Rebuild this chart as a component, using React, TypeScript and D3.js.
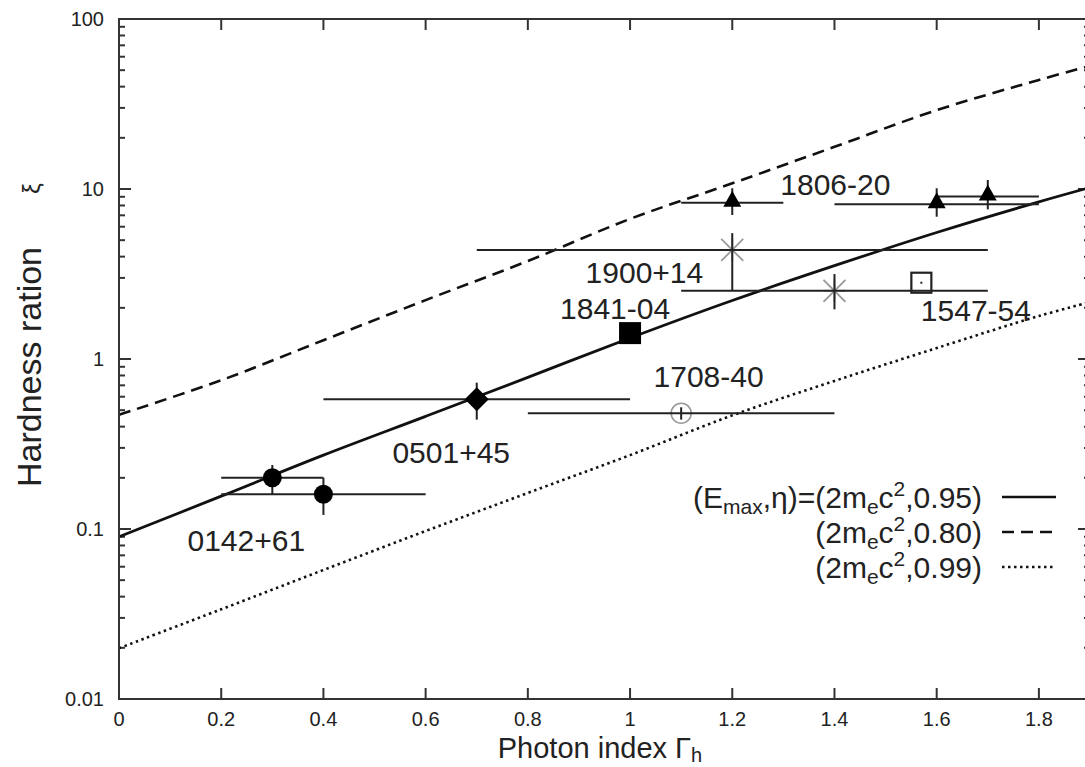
import React from 'react';
import * as d3 from 'd3';

// Model curves
const curveX = [0, 0.2, 0.4, 0.6, 0.8, 1.0, 1.2, 1.4, 1.6, 1.8, 1.9];
const eta095 = [0.09, 0.156, 0.272, 0.46, 0.78, 1.33, 2.21, 3.54, 5.55, 8.4, 10.2];
const eta080 = [0.47, 0.75, 1.29, 2.22, 3.77, 6.67, 10.8, 17.7, 29.1, 43.8, 53];
const eta099 = [0.0199, 0.0337, 0.0574, 0.0973, 0.163, 0.272, 0.466, 0.743, 1.16, 1.79, 2.16];

// Sources
const srcName = ['0142+61', '0142+61', '0501+45', '1841-04', '1708-40', '1900+14', '1900+14', '1547-54', '1806-20', '1806-20', '1806-20'];
const srcX = [0.3, 0.4, 0.7, 1.0, 1.1, 1.2, 1.4, 1.57, 1.2, 1.6, 1.7];
const srcY = [0.2, 0.16, 0.58, 1.42, 0.48, 4.38, 2.52, 2.81, 8.3, 8.13, 9.02];
const srcXlo = [0.2, 0.2, 0.4, null, 0.8, 0.7, 1.1, null, 1.1, 1.4, 1.6];
const srcXhi = [0.4, 0.6, 1.0, null, 1.4, 1.7, 1.7, null, 1.3, 1.8, 1.8];
const srcYlo = [0.16, 0.121, 0.44, null, 0.44, 2.52, 1.96, null, 7.03, 6.87, 7.59];
const srcYhi = [0.238, 0.2, 0.726, null, 0.52, 5.5, 3.16, null, 10.1, 10.1, 11.3];
const srcMarker = ['circle', 'circle', 'diamond', 'square', 'circleplus', 'star', 'star', 'opensquare', 'triangle', 'triangle', 'triangle'];

// Source labels (data-space anchors)
const labelText = ['0142+61', '0501+45', '1841-04', '1708-40', '1900+14', '1806-20', '1547-54'];
const labelX = [0.134, 0.535, 0.863, 1.046, 0.913, 1.294, 1.569];
const labelY = [0.0743, 0.243, 1.71, 0.687, 2.79, 9.22, 1.67];

// Axis ticks
const xTicks = [0, 0.2, 0.4, 0.6, 0.8, 1, 1.2, 1.4, 1.6, 1.8];
const xTickLabels = ['0', '0.2', '0.4', '0.6', '0.8', '1', '1.2', '1.4', '1.6', '1.8'];
const yTicks = [0.01, 0.1, 1, 10, 100];
const yTickLabels = ['0.01', '0.1', '1', '10', '100'];

const legendEta = ['0.95', '0.80', '0.99'];

const W = 1085;
const H = 767;
const INK = '#222';
const GRAY = '#999';
const FONT = '"Liberation Sans", Arial, Helvetica, sans-serif';

export default function App() {
  const x = d3.scaleLinear().domain([0, 1.9]).range([119, 1090]);
  const y = d3.scaleLog().domain([0.01, 100]).range([699, 19]);
  const [x0, x1] = x.range();
  const [y0, y1] = y.range();

  const mk = (vals: number[]) =>
    d3.line<number>()
      .x((_, i) => x(curveX[i]))
      .y((v) => y(v))
      .curve(d3.curveCatmullRom.alpha(0.5))(vals) || '';

  const minor: number[] = [];
  for (let e = -2; e < 2; e++) {
    for (let m = 2; m <= 9; m++) minor.push(m * Math.pow(10, e));
  }

  const legendDash = ['none', '12,7', '2.5,3.5'];

  const marker = (i: number) => {
    const cx = x(srcX[i]);
    const cy = y(srcY[i]);
    const t = srcMarker[i];
    if (t === 'circle') return <circle key={'m' + i} cx={cx} cy={cy} r={9.5} fill="#000" />;
    if (t === 'diamond')
      return <path key={'m' + i} d={`M${cx},${cy - 12} L${cx + 12},${cy} L${cx},${cy + 12} L${cx - 12},${cy} Z`} fill="#000" />;
    if (t === 'square') return <rect key={'m' + i} x={cx - 11} y={cy - 11} width={22} height={22} fill="#000" />;
    if (t === 'opensquare')
      return (
        <g key={'m' + i}>
          <rect x={cx - 10} y={cy - 10} width={20} height={20} fill="none" stroke={INK} strokeWidth={2.2} />
          <rect x={cx - 1} y={cy - 1} width={2} height={2} fill={INK} />
        </g>
      );
    if (t === 'triangle')
      return <path key={'m' + i} d={`M${cx},${cy - 12} L${cx + 9},${cy + 4} L${cx - 9},${cy + 4} Z`} fill="#000" />;
    return null;
  };

  const underMarker = (i: number) => {
    const cx = x(srcX[i]);
    const cy = y(srcY[i]);
    const t = srcMarker[i];
    if (t === 'star') {
      const s = 11;
      return (
        <g key={'u' + i} stroke={GRAY} strokeWidth={1.8}>
          <line x1={cx - s} y1={cy - s} x2={cx + s} y2={cy + s} />
          <line x1={cx - s} y1={cy + s} x2={cx + s} y2={cy - s} />
          <line x1={cx - s} y1={cy} x2={cx + s} y2={cy} />
          <line x1={cx} y1={cy - s} x2={cx} y2={cy + s} />
        </g>
      );
    }
    if (t === 'circleplus')
      return <circle key={'u' + i} cx={cx} cy={cy} r={10} fill="none" stroke={GRAY} strokeWidth={1.6} />;
    return null;
  };

  return (
    <svg
      width={W}
      height={H}
      viewBox={`0 0 ${W} ${H}`}
      style={{ position: 'absolute', left: 0, top: 0, display: 'block', background: '#fff' }}
      fontFamily={FONT}
    >
      <rect x={0} y={0} width={W} height={H} fill="#fff" />

      {/* ticks */}
      <g stroke="#333" strokeWidth={2}>
        {yTicks.map((v) => (
          <g key={'yt' + v}>
            <line x1={x0} x2={x0 + 12} y1={y(v)} y2={y(v)} />
            <line x1={x1} x2={x1 - 12} y1={y(v)} y2={y(v)} />
          </g>
        ))}
        {minor.map((v) => (
          <g key={'ym' + v}>
            <line x1={x0} x2={x0 + 6} y1={y(v)} y2={y(v)} />
            <line x1={x1} x2={x1 - 6} y1={y(v)} y2={y(v)} />
          </g>
        ))}
        {xTicks.map((v) => (
          <g key={'xt' + v}>
            <line x1={x(v)} x2={x(v)} y1={y0} y2={y0 - 11} />
            <line x1={x(v)} x2={x(v)} y1={y1} y2={y1 + 11} />
          </g>
        ))}
      </g>

      {/* tick labels */}
      <g fontSize={20} fill={INK}>
        {yTicks.map((v, i) => (
          <text key={'yl' + v} x={104} y={y(v)} dy="0.36em" textAnchor="end">
            {yTickLabels[i]}
          </text>
        ))}
        {xTicks.map((v, i) => (
          <text key={'xl' + v} x={x(v)} y={726} textAnchor="middle">
            {xTickLabels[i]}
          </text>
        ))}
      </g>

      {/* axis titles */}
      <text x={600} y={758} fontSize={29} textAnchor="middle" fill={INK}>
        Photon index Γ<tspan fontSize={20} dy={4}>h</tspan>
      </text>
      <text transform="translate(41,487) rotate(-90)" fontSize={34} fill={INK}>
        Hardness ration
      </text>
      <text transform="translate(40,194) rotate(-90)" fontSize={24} fill={INK}>
        ξ
      </text>

      {/* model curves */}
      <path d={mk(eta095)} fill="none" stroke="#111" strokeWidth={2.8} />
      <path d={mk(eta080)} fill="none" stroke="#111" strokeWidth={2.6} strokeDasharray="12,7" />
      <path d={mk(eta099)} fill="none" stroke="#111" strokeWidth={2.6} strokeDasharray="2.5,3.5" />

      {/* markers beneath error bars */}
      {srcName.map((_, i) => underMarker(i))}

      {/* error bars */}
      <g stroke={INK} strokeWidth={2}>
        {srcName.map((_, i) => (
          <g key={'e' + i}>
            {srcXlo[i] != null && (
              <line x1={x(srcXlo[i] as number)} x2={x(srcXhi[i] as number)} y1={y(srcY[i])} y2={y(srcY[i])} />
            )}
            {srcYlo[i] != null && (
              <line x1={x(srcX[i])} x2={x(srcX[i])} y1={y(srcYlo[i] as number)} y2={y(srcYhi[i] as number)} />
            )}
          </g>
        ))}
      </g>

      {/* markers */}
      {srcName.map((_, i) => marker(i))}

      {/* labels */}
      <g fontSize={30} fill={INK}>
        {labelText.map((t, i) => (
          <text key={'lb' + i} x={x(labelX[i])} y={y(labelY[i])}>
            {t}
          </text>
        ))}
      </g>

      {/* legend */}
      <g fontSize={30} fill={INK}>
        {legendEta.map((eta, i) => {
          const by = 508 + i * 35;
          return (
            <g key={'lg' + i}>
              <text x={982} y={by} textAnchor="end">
                {i === 0 ? (
                  <>
                    (E<tspan fontSize={21} dy={6}>max</tspan>
                    <tspan dy={-6}>,η)=(2m</tspan>
                  </>
                ) : (
                  <>(2m</>
                )}
                <tspan fontSize={21} dy={6}>e</tspan>
                <tspan dy={-6}>c</tspan>
                <tspan fontSize={21} dy={-12}>2</tspan>
                <tspan dy={12}>,{eta})</tspan>
              </text>
              <line
                x1={1002}
                x2={1056}
                y1={by - 11}
                y2={by - 11}
                stroke="#111"
                strokeWidth={2.6}
                strokeDasharray={legendDash[i]}
              />
            </g>
          );
        })}
      </g>

      {/* frame */}
      <rect x={x0} y={y1} width={x1 - x0} height={y0 - y1} fill="none" stroke="#333" strokeWidth={2} />
    </svg>
  );
}
